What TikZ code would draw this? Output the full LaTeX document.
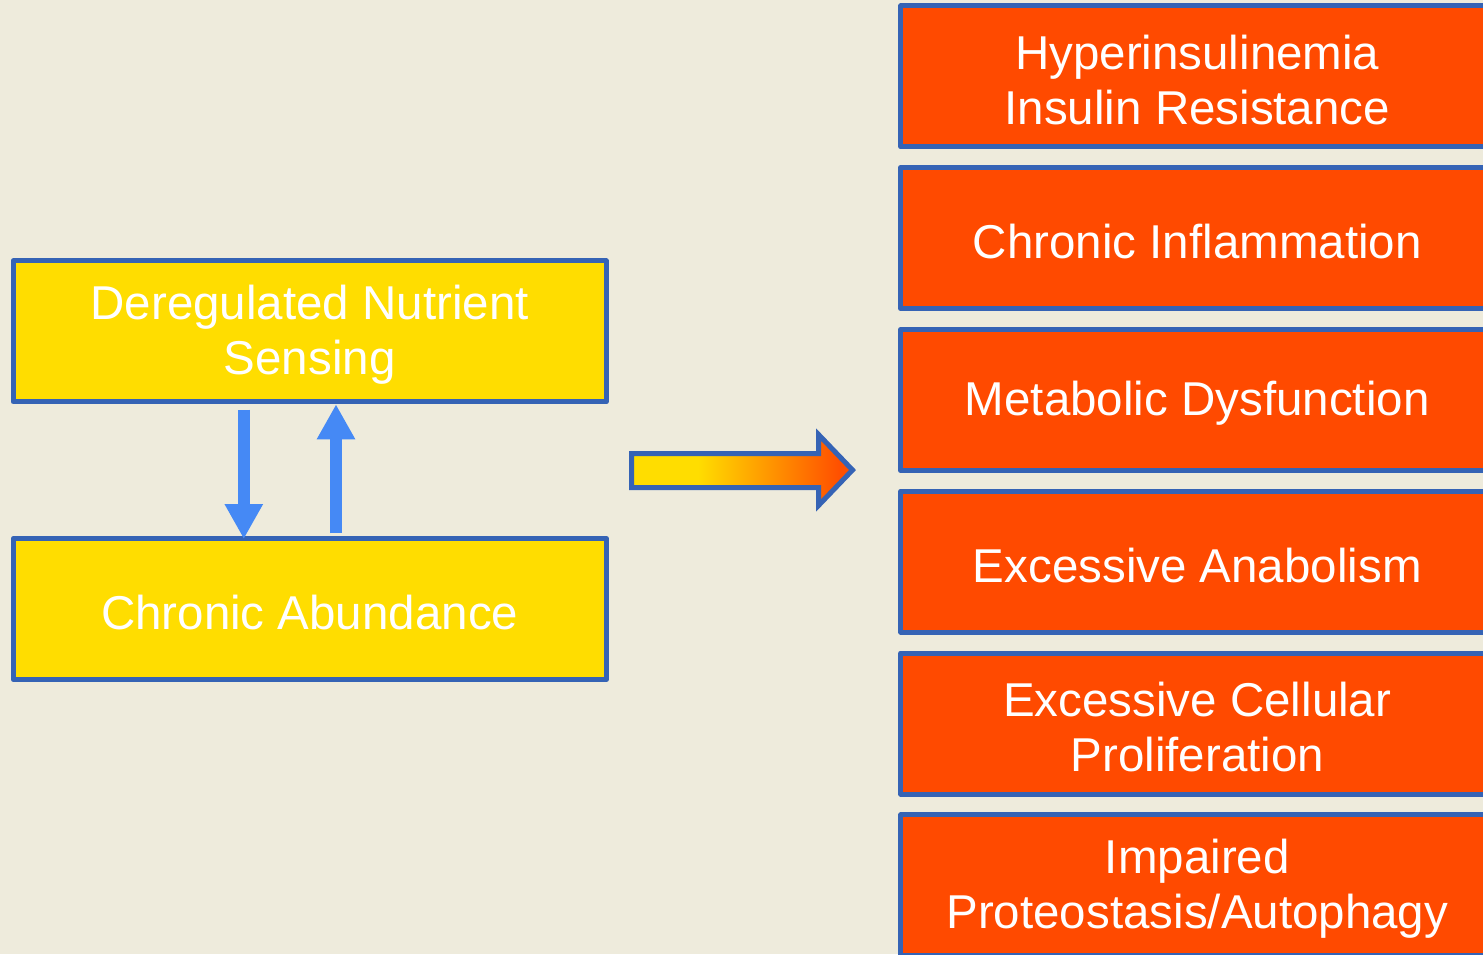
\documentclass[tikz,border=0pt]{standalone}
\usepackage{fontspec}
\setmainfont{Liberation Sans}
\usetikzlibrary{arrows.meta}

\definecolor{bgcream}{HTML}{EEEBDC}
\definecolor{boxblue}{HTML}{3563B5}
\definecolor{boxyellow}{HTML}{FFDD00}
\definecolor{boxorange}{HTML}{FF4A00}
\definecolor{arrowblue}{HTML}{4589F5}
\definecolor{gradorange}{HTML}{FF5000}

% yellow-to-orange fill for the block arrow
\pgfdeclarehorizontalshading{blockarrowfill}{100bp}{%
  color(0bp)=(boxyellow); color(40bp)=(boxyellow);
  color(72bp)=(gradorange); color(100bp)=(gradorange)}

\tikzset{
  panel/.style={draw=boxblue, line width=5pt, line join=round,
    minimum width=593pt, minimum height=141pt, inner sep=0pt},
  nutrient/.style={panel, fill=boxyellow},
  effect/.style={panel, fill=boxorange},
  paneltext/.style={align=center, text=white, inner sep=0pt,
    font=\fontsize{47.5}{55}\selectfont},
  feedback/.style={draw=arrowblue, line width=12pt,
    -{Triangle[width=36pt,length=35pt]}, arrowblue}
}

\begin{document}
\begin{tikzpicture}[x=1pt,y=1pt]
  % canvas
  \fill[bgcream] (0,0) rectangle (1483,-954);
  \useasboundingbox (0,0) rectangle (1483,-954);

  % left column
  \node[nutrient] (sens) at (309.7,-331.3) {};
  \node[nutrient] (abund) at (309.7,-609) {};
  \node[paneltext] (sensT) at ([yshift=-3.5pt]sens.center) {Deregulated Nutrient\\Sensing};
  \node[paneltext] (abundT) at ([yshift=-3.5pt]abund.center) {Chronic Abundance};

  % two-way feedback between the left boxes
  \draw[feedback] ([xshift=-65.9pt,yshift=-5.2pt]sens.south)
    -- ([xshift=-65.9pt,yshift=-3pt]abund.north);
  \draw[feedback] ([xshift=26.3pt,yshift=3pt]abund.north)
    -- ([xshift=26.3pt,yshift=0pt]sens.south);

  % block arrow
  \path[draw=boxblue, line width=5pt, line join=miter, shading=blockarrowfill]
    (631.5,-453.5) -- (818.5,-453.5) -- (818.5,-434.5) -- (852.5,-470)
    -- (818.5,-505.5) -- (818.5,-487.5) -- (631.5,-487.5) -- cycle;

  % right column
  \node[effect] (e1) at (1197.3,-76.3)  {};
  \node[effect] (e2) at (1197.3,-238.1) {};
  \node[effect] (e3) at (1197.3,-399.9) {};
  \node[effect] (e4) at (1197.3,-561.7) {};
  \node[effect] (e5) at (1197.3,-723.5) {};
  \node[effect] (e6) at (1197.3,-885.3) {};
  \node[paneltext] (e1T) at ([yshift=-3.5pt]e1.center) {Hyperinsulinemia\\Insulin Resistance};
  \node[paneltext] (e2T) at ([yshift=-3.5pt]e2.center) {Chronic Inflammation};
  \node[paneltext] (e3T) at ([yshift=-3.5pt]e3.center) {Metabolic Dysfunction};
  \node[paneltext] (e4T) at ([yshift=-3.5pt]e4.center) {Excessive Anabolism};
  \node[paneltext] (e5T) at ([yshift=-3.5pt]e5.center) {Excessive Cellular\\Proliferation};
  \node[paneltext] (e6T) at ([yshift=-3.5pt]e6.center) {Impaired\\Proteostasis/Autophagy};
\end{tikzpicture}
\end{document}
